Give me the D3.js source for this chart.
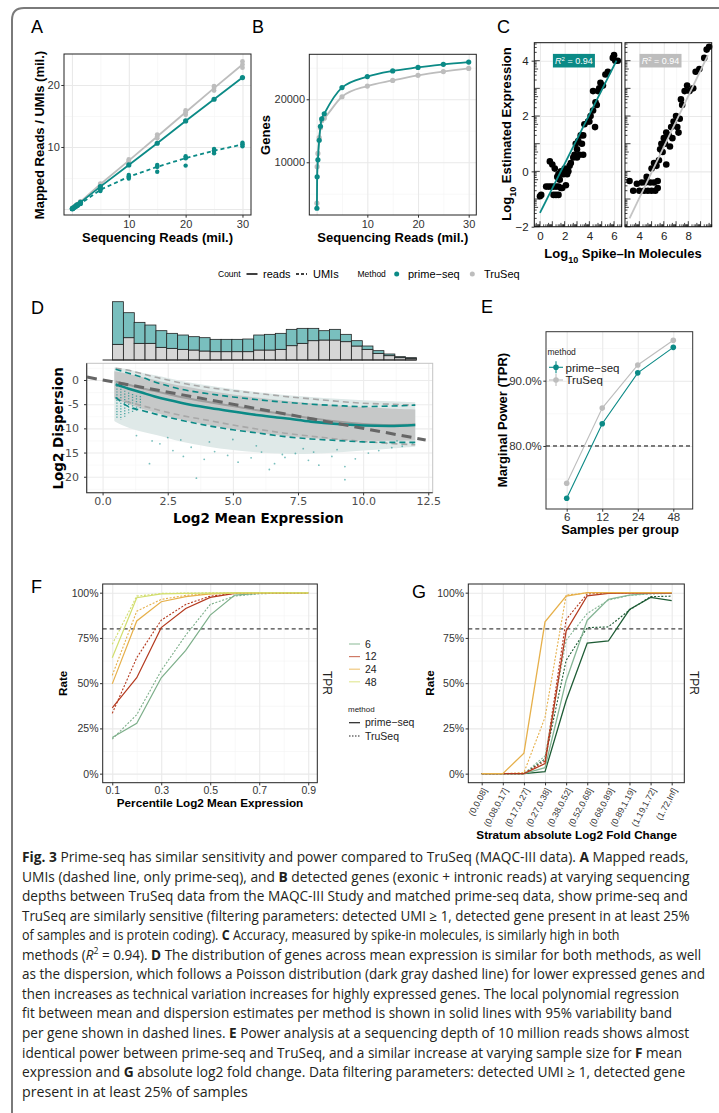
<!DOCTYPE html>
<html><head><meta charset="utf-8">
<script src="https://cdn.jsdelivr.net/npm/d3@7/dist/d3.min.js"></script>
<style>body{margin:0;background:#fff;}</style>
</head><body>
<svg id="fig" width="719" height="1113" xmlns="http://www.w3.org/2000/svg"></svg>
<script>
// ================= DATA =================
// Panel A / B : sequencing depth (millions of reads)
const depths=[0.05,0.1,0.25,0.5,0.75,1,1.5,5,10,15,20,25,30];
const readsTruSeq=[0.04,0.08,0.2,0.39,0.59,0.78,1.17,4.0,7.8,11.7,15.6,19.5,23.3];
const readsTruSeqLo=[0.04,0.08,0.2,0.38,0.58,0.77,1.15,3.9,7.6,11.4,15.2,19.1,22.8];
const readsTruSeqHi=[0.04,0.08,0.2,0.4,0.6,0.8,1.2,4.1,8.0,12.0,15.9,19.8,23.8];
const readsPrime=[0.04,0.07,0.18,0.36,0.53,0.71,1.07,3.6,7.1,10.6,14.2,17.7,21.2];
const umisPrime=[0.03,0.06,0.15,0.3,0.44,0.58,0.86,3.1,5.2,6.8,8.2,9.4,10.4];
const umisPrimeLo=[0.03,0.05,0.14,0.28,0.42,0.55,0.8,2.9,4.9,6.0,7.0,9.0,10.1];
const umisPrimeHi=[0.03,0.06,0.16,0.32,0.46,0.61,0.9,3.3,5.5,7.1,8.5,9.7,10.7];
const genesTruSeq=[3500,9300,11400,13900,15500,16600,17000,20400,22100,23000,23800,24400,24900];
const genesPrime=[2700,7700,10400,13500,15700,16900,17700,21850,23600,24500,25050,25550,25900];
// Panel C : spike-ins
const cLeftX=[0.0,0.1,0.5,0.7,0.9,1.1,1.3,1.5,1.1,1.3,1.5,0.8,1.0,1.2,1.5,1.7,1.9,2.0,2.2,2.3,1.8,1.6,1.4,2.5,2.7,2.8,3.0,3.2,2.9,3.1,3.3,3.5,3.5,3.6,3.9,4.1,4.3,4.5,4.46,4.6,4.3,4.7,4.9,5.3,5.5,5.1,5.9,6.0,6.3,6.1,2.1,1.7,2.4,3.4,3.0,4.0,4.8];
const cLeftY=[-0.9,-0.85,-0.55,-0.55,-0.55,-0.55,-0.55,-0.55,-0.85,-0.85,-0.85,0.36,0.25,0.1,-0.1,0.0,-0.1,0.1,-0.1,0.0,-0.6,-0.3,-0.2,0.3,0.5,0.6,0.5,0.6,1.0,1.1,1.3,1.3,0.6,1.7,1.8,2.0,2.2,2.5,1.6,2.4,2.9,2.9,3.2,3.5,3.6,3.1,4.1,4.2,4.0,4.0,-0.5,-0.6,0.2,1.0,0.8,1.8,3.0];
const cRightX=[3.2,3.5,3.8,4.0,4.2,4.4,4.5,4.7,4.9,5.0,5.2,5.5,5.5,5.3,4.6,5.0,5.2,5.4,5.6,5.9,6.2,5.8,6.0,6.2,6.1,6.4,6.5,6.6,6.8,7.0,7.1,7.3,7.2,7.5,7.4,7.7,7.9,8.1,8.4,8.6,8.9,9.3,9.5,9.7,6.7,5.7];
const cRightY=[-0.35,-0.7,-0.45,-0.7,-0.4,-0.7,-0.4,-0.7,-0.4,-0.7,-0.4,-0.35,-0.6,-0.7,-0.2,0.1,0.3,0.2,0.4,0.7,0.25,1.0,1.2,1.4,1.0,1.3,0.9,1.6,1.8,2.0,1.6,1.9,1.4,2.4,2.6,2.9,3.1,2.9,3.0,3.6,3.7,4.1,4.4,4.5,1.2,0.8];
const cFitLeftX=[0,6.2], cFitLeftY=[-1.5,4.0];
const cFitRightX=[3.2,9.6], cFitRightY=[-1.7,4.2];
const cR2Label="= 0.94";
// Panel D : histogram + dispersion
const histEdges=[0.38,0.80,1.21,1.63,2.05,2.46,2.88,3.30,3.71,4.13,4.55,4.96,5.38,5.80,6.21,6.63,7.05,7.46,7.88,8.30,8.71,9.13,9.55,9.96,10.38,10.80,11.21,11.63];
const histWidth=0.417;
const histPrime=[1280,750,630,550,500,450,430,400,400,370,370,370,380,450,470,480,490,450,370,280,320,220,160,100,80,50,30,20];
const histTru=[470,670,500,500,380,350,320,300,270,250,250,250,250,300,300,320,430,500,580,600,600,550,420,320,200,130,70,50];
const cloudX=[0.45,0.8,1.2,1.6,2,2.5,3,4,5,6,7,8,9,10,11,12];
const cloudOuterTop=[2.6,2.4,1.9,1.4,1.0,0.4,-0.2,-1.1,-1.9,-2.6,-3.1,-3.5,-3.9,-4.2,-4.4,-4.6];
const cloudOuterBot=[-8.5,-9.5,-10.3,-10.8,-11.3,-12.0,-12.8,-13.8,-14.5,-15.0,-15.3,-15.3,-15.0,-14.6,-14.2,-13.8];
const cloudCoreTop=[1.8,1.5,1.0,0.5,0.0,-0.6,-1.2,-2.2,-3.0,-3.7,-4.3,-4.8,-5.2,-5.6,-5.9,-6.1];
const cloudCoreBot=[-3.8,-4.6,-5.4,-6.1,-6.7,-7.5,-8.2,-9.3,-10.2,-11.0,-11.6,-12.1,-12.4,-12.6,-12.6,-12.5];
const streakX=[0.55,0.7,0.85,1.0,1.15,1.3,1.45];
const streakTop=[-1.2,-1.8,-2.2,-2.6,-2.9,-3.2,-3.3];
const streakBot=[-8.0,-8.2,-7.6,-7.2,-6.8,-6.4,-6.0];
const dOutX=[1.3,1.8,2.2,2.7,3.1,3.4,3.9,4.3,4.8,5.2,5.7,6.1,6.6,7.0,7.4,7.9,8.3,8.8,9.3,9.7,10.2,10.6,11.1,11.5,11.9,3.6,6.4,9.3,1.9,5.0,2.5,4.1,5.9,7.7,9.0,10.9,8.1,6.9,3.0,11.3];
const dOutY=[-11.5,-17.3,-13.2,-14.6,-15.8,-13.9,-16.4,-14.8,-15.6,-17.0,-16.1,-14.9,-17.3,-16.0,-15.2,-16.6,-17.6,-15.8,-20.6,-16.3,-15.1,-14.6,-14.0,-13.7,-13.2,-20.3,-18.5,-17.9,-12.6,-12.3,-11.9,-12.8,-13.6,-14.2,-14.4,-13.1,-14.9,-15.4,-12.4,-12.6];
const dFitX=[0.5,1,1.5,2,2.5,3,4,5,6,7,8,9,10,11,12];
const dPrimeFit=[-0.9,-1.8,-2.6,-3.4,-4.1,-4.7,-5.7,-6.5,-7.3,-7.9,-8.6,-9.1,-9.4,-9.5,-9.3];
const dTruFit=[-0.3,-1.0,-1.7,-2.3,-2.9,-3.5,-4.5,-5.4,-6.3,-7.1,-7.9,-8.6,-9.1,-9.3,-9.2];
const dPrimeUp=[2.2,1.4,0.6,-0.4,-1.2,-1.9,-2.8,-3.5,-4.1,-4.6,-5.0,-5.3,-5.5,-5.4,-5.2];
const dPrimeLo=[-3.6,-5.5,-6.3,-7.0,-7.7,-8.3,-9.4,-10.3,-11.0,-11.7,-12.2,-12.5,-12.8,-12.9,-12.9];
const dTruUp=[2.4,2.0,1.3,0.6,0.0,-0.6,-1.5,-2.2,-2.8,-3.4,-3.9,-4.4,-4.8,-5.0,-5.2];
const dTruLo=[-3.8,-4.6,-5.3,-6.0,-6.7,-7.3,-8.3,-9.3,-10.2,-11.0,-11.6,-12.2,-12.7,-13.1,-13.4];
const dPoisX=[-0.6,12.4], dPoisY=[0.6,-12.4];
// Panel E : marginal power
const samples=["6","12","24","48"];
const tprPrime=[72.0,83.4,91.2,95.1];
const tprTru=[74.3,85.8,92.4,96.2];
// Panel F : TPR by mean expression percentile
const percentiles=[0.1,0.2,0.3,0.4,0.5,0.6,0.7,0.8,0.9];
const f6Prime=[20.0,27.8,53.0,68.1,87.6,98.7,99.6,99.7,99.8];
const f6Tru=[19.1,32.6,57.0,76.5,93.5,98.1,99.4,99.7,99.8];
const f12Prime=[36.3,53.0,80.7,91.3,97.4,99.6,99.8,99.8,99.9];
const f12Tru=[33.3,64.1,84.8,93.5,98.1,99.6,99.8,99.9,99.9];
const f24Prime=[49.6,84.4,95.0,97.8,99.3,99.8,99.9,99.9,99.9];
const f24Tru=[54.3,89.8,96.3,98.5,99.4,99.8,99.9,99.9,99.9];
const f48Prime=[64.0,97.2,99.3,99.6,99.8,99.9,99.9,99.9,99.9];
const f48Tru=[71.5,98.1,99.6,99.8,99.9,99.9,99.9,99.9,99.9];
// Panel G : TPR by |log2 FC| stratum
const strata=["(0,0.08]","(0.08,0.17]","(0.17,0.27]","(0.27,0.38]","(0.38,0.52]","(0.52,0.68]","(0.68,0.89]","(0.89,1.19]","(1.19,1.72]","(1.72,Inf]"];
const gOrangePrime=[0,0,11.3,83.9,98.1,100,100,100,100,100];
const gOrangeTru=[0,0,0.6,31.1,98.7,99.8,100,100,100,100];
const gRedPrime=[0,0,0,5.6,78.9,98.3,99.6,99.8,99.8,99.8];
const gRedTru=[0,0,0,7,85.2,99.3,99.8,99.8,99.8,99.8];
const gLightPrime=[0,0,0,3.3,51.5,84.8,96.3,98.7,99.6,99.6];
const gLightTru=[0,0,0,9.8,73.7,88.5,95.9,98.5,99.3,99.6];
const gDarkPrime=[0,0,0,1.1,40.4,72.2,73.3,90.7,97.4,95.6];
const gDarkTru=[0,0,0,8.1,62.6,80.7,81.1,90.4,97.8,98.1];
const tprThreshold=80;
// Caption
const captionLines=[
 "**Fig. 3**  Prime-seq has similar sensitivity and power compared to TruSeq (MAQC-III data). **A** Mapped reads,",
 "UMIs (dashed line, only prime-seq), and **B** detected genes (exonic + intronic reads) at varying sequencing",
 "depths between TruSeq data from the MAQC-III Study and matched prime-seq data, show prime-seq and",
 "TruSeq are similarly sensitive (filtering parameters: detected UMI ≥ 1, detected gene present in at least 25%",
 "of samples and is protein coding). **C** Accuracy, measured by spike-in molecules, is similarly high in both",
 "methods (@R@^2^ = 0.94). **D** The distribution of genes across mean expression is similar for both methods, as well",
 "as the dispersion, which follows a Poisson distribution (dark gray dashed line) for lower expressed genes and",
 "then increases as technical variation increases for highly expressed genes. The local polynomial regression",
 "fit between mean and dispersion estimates per method is shown in solid lines with 95% variability band",
 "per gene shown in dashed lines. **E** Power analysis at a sequencing depth of 10 million reads shows almost",
 "identical power between prime-seq and TruSeq, and a similar increase at varying sample size for **F** mean",
 "expression and **G** absolute log2 fold change. Data filtering parameters: detected UMI ≥ 1, detected gene",
 "present in at least 25% of samples"];
const captionEnds=[689,690,688,690,620,702,706,680,673,690,683,686,248];

// ================= DRAWING =================
const FF="Liberation Sans, Arial, Helvetica, sans-serif";
const DV="DejaVu Sans, Verdana, sans-serif";
const TEAL="#0b8a86", GRAY="#bdbdbd";
const svg=d3.select("#fig").attr("font-family",FF);
svg.append("rect").attr("width",719).attr("height",1113).attr("fill","#fff");
svg.append("path").attr("d","M12,1113V20Q12,8 24,8H719").attr("fill","none").attr("stroke","#7a7a7a").attr("stroke-width",2);

function T(x,y,txt,o={}){
  const t=svg.append("text").attr("x",x).attr("y",y).text(txt)
   .attr("font-size",o.fs||11).attr("fill",o.fill||"#000")
   .attr("font-family",o.ff||FF).attr("font-weight",o.fw||"normal")
   .attr("text-anchor",o.anchor||"start");
  if(o.rot!=null) t.attr("transform",`rotate(${o.rot},${x},${y})`);
  if(o.dy) t.attr("dy",o.dy);
  return t;
}
function grid(o){
  const g=svg.append("g");
  g.append("rect").attr("x",o.L).attr("y",o.T).attr("width",o.R-o.L).attr("height",o.B-o.T).attr("fill","#fff");
  const st=(w,c)=>a=>{a.select(".domain").remove();a.selectAll(".tick line").attr("stroke",c).attr("stroke-width",w);a.selectAll("text").remove();};
  const h=o.B-o.T,w=o.R-o.L;
  const minC=o.minC||"#f4f4f4", majC=o.majC||"#e9e9e9";
  if(o.xMin) g.append("g").attr("transform",`translate(0,${o.B})`).call(d3.axisBottom(o.xs).tickValues(o.xMin).tickSize(-h)).call(st(0.6,minC));
  if(o.yMin) g.append("g").attr("transform",`translate(${o.L},0)`).call(d3.axisLeft(o.ys).tickValues(o.yMin).tickSize(-w)).call(st(0.6,minC));
  if(o.xMaj) g.append("g").attr("transform",`translate(0,${o.B})`).call(d3.axisBottom(o.xs).tickValues(o.xMaj).tickSize(-h)).call(st(1.1,majC));
  if(o.yMaj) g.append("g").attr("transform",`translate(${o.L},0)`).call(d3.axisLeft(o.ys).tickValues(o.yMaj).tickSize(-w)).call(st(1.1,majC));
}
function border(o,c="#222",w=1){
  svg.append("rect").attr("x",o.L).attr("y",o.T).attr("width",o.R-o.L).attr("height",o.B-o.T).attr("fill","none").attr("stroke",c).attr("stroke-width",w);
}
function axisX(o,ticks,fmt,opt={}){
  const g=svg.append("g").attr("transform",`translate(0,${o.B})`)
   .call(d3.axisBottom(o.xs).tickValues(ticks).tickSize(opt.ts??2.7).tickPadding(opt.pad??2).tickFormat(fmt));
  g.select(".domain").remove();
  g.attr("font-family",opt.ff||FF).attr("font-size",opt.fs||11);
  g.selectAll(".tick line").attr("stroke",opt.tc||"#333");
  g.selectAll("text").attr("fill",opt.col||"#333");
  return g;
}
function axisY(o,ticks,fmt,opt={}){
  const g=svg.append("g").attr("transform",`translate(${o.L},0)`)
   .call(d3.axisLeft(o.ys).tickValues(ticks).tickSize(opt.ts??2.7).tickPadding(opt.pad??1.5).tickFormat(fmt));
  g.select(".domain").remove();
  g.attr("font-family",opt.ff||FF).attr("font-size",opt.fs||11);
  g.selectAll(".tick line").attr("stroke",opt.tc||"#333");
  g.selectAll("text").attr("fill",opt.col||"#333");
  return g;
}
function path(d,stroke,w,dash,op){
  const p=svg.append("path").attr("d",d).attr("fill","none").attr("stroke",stroke).attr("stroke-width",w);
  if(dash) p.attr("stroke-dasharray",dash);
  if(op) p.attr("opacity",op);
  return p;
}
function dots(xs,ys,xv,yv,color,r){
  svg.append("g").selectAll("circle").data(yv).join("circle")
   .attr("cx",(d,i)=>xs(xv[i])).attr("cy",d=>ys(d)).attr("r",r).attr("fill",color);
}

// ---------- Panel A ----------
T(31,33,"A",{fs:18});
const A={L:64,R:251,T:54,B:215};
A.xs=d3.scaleLinear().domain([-1.4,31.5]).range([A.L,A.R]);
A.ys=d3.scaleLinear().domain([-0.97,25]).range([A.B,A.T]);
grid({...A,xMaj:[0,10,20,30],xMin:[5,15,25],yMaj:[0,10,20],yMin:[5,15]});
const lineA=d3.line().x((d,i)=>A.xs(depths[i])).y(d=>A.ys(d));
path(lineA(readsTruSeq),GRAY,1.8);
dots(A.xs,A.ys,depths,readsTruSeqLo,GRAY,2.4);
dots(A.xs,A.ys,depths,readsTruSeqHi,GRAY,2.4);
dots(A.xs,A.ys,depths,readsTruSeq,GRAY,2.4);
path(lineA(umisPrime),TEAL,1.8,"4,3");
dots(A.xs,A.ys,depths,umisPrimeLo,TEAL,2.2);
dots(A.xs,A.ys,depths,umisPrimeHi,TEAL,2.2);
dots(A.xs,A.ys,depths,umisPrime,TEAL,2.4);
path(lineA(readsPrime),TEAL,1.8);
dots(A.xs,A.ys,depths,readsPrime,TEAL,2.6);
border(A);
axisX(A,[10,20,30],d3.format("d"));
axisY(A,[10,20],d3.format("d"));
T(157.5,241.5,"Sequencing Reads (mil.)",{fs:13,fw:"bold",anchor:"middle"});
T(44,135,"Mapped Reads / UMIs (mil.)",{fs:13,fw:"bold",anchor:"middle",rot:-90});

// ---------- Panel B ----------
T(252,33,"B",{fs:18});
const B={L:309.3,R:476.3,T:54.3,B:215};
B.xs=d3.scaleLinear().domain([-1.45,31.5]).range([B.L,B.R]);
B.ys=d3.scaleLinear().domain([1630,27140]).range([B.B,B.T]);
grid({...B,xMaj:[0,10,20,30],xMin:[5,15,25],yMaj:[10000,20000],yMin:[5000,15000,25000]});
const lineB=d3.line().x((d,i)=>B.xs(depths[i])).y(d=>B.ys(d)).curve(d3.curveMonotoneX);
path(lineB(genesTruSeq),GRAY,1.8);
dots(B.xs,B.ys,depths,genesTruSeq,GRAY,2.6);
path(lineB(genesPrime),TEAL,1.8);
dots(B.xs,B.ys,depths,genesPrime,TEAL,2.6);
border(B);
axisX(B,[10,20,30],d3.format("d"));
axisY(B,[10000,20000],d3.format("d"));
T(392.8,241.5,"Sequencing Reads (mil.)",{fs:13,fw:"bold",anchor:"middle"});
T(269.5,135,"Genes",{fs:13,fw:"bold",anchor:"middle",rot:-90});

// ---------- Panel C ----------
T(497,33,"C",{fs:18});
const CL={L:534.3,R:621.7,T:42.7,B:226.7}, CR={L:625,R:711.7,T:42.7,B:226.7};
CL.xs=d3.scaleLinear().domain([-0.46,6.62]).range([CL.L,CL.R]);
CR.xs=d3.scaleLinear().domain([2.83,9.91]).range([CR.L,CR.R]);
CL.ys=d3.scaleLinear().domain([-2,4.65]).range([CL.B,CL.T]); CR.ys=CL.ys;
grid({...CL,xMaj:[0,2,4,6],xMin:[1,3,5],yMaj:[-2,0,2,4],yMin:[-1,1,3]});
grid({...CR,xMaj:[4,6,8],xMin:[3,5,7,9],yMaj:[-2,0,2,4],yMin:[-1,1,3]});
const logK=[1,2,3,4,5,6,7,8,9];
function logTicks(P){
  const g=svg.append("g").attr("stroke","#111").attr("stroke-width",0.8);
  const [x0,x1]=P.xs.domain(),[y0,y1]=P.ys.domain();
  for(let d=Math.floor(x0);d<=x1;d++) logK.forEach(k=>{const v=d+Math.log10(k); if(v<x0||v>x1) return;
    const len=k===1?5.5:(k===5?3.8:2.4); g.append("line").attr("x1",P.xs(v)).attr("x2",P.xs(v)).attr("y1",P.B).attr("y2",P.B-len);});
  for(let d=Math.floor(y0);d<=y1;d++) logK.forEach(k=>{const v=d+Math.log10(k); if(v<y0||v>y1) return;
    const len=k===1?5.5:(k===5?3.8:2.4); g.append("line").attr("y1",P.ys(v)).attr("y2",P.ys(v)).attr("x1",P.L).attr("x2",P.L+len);});
}
logTicks(CL); logTicks(CR);
dots(CL.xs,CL.ys,cLeftX,cLeftY,"#000",3.3);
dots(CR.xs,CR.ys,cRightX,cRightY,"#000",3.3);
path(d3.line().x((d,i)=>CL.xs(cFitLeftX[i])).y(d=>CL.ys(d))(cFitLeftY),TEAL,1.8);
path(d3.line().x((d,i)=>CR.xs(cFitRightX[i])).y(d=>CR.ys(d))(cFitRightY),"#c4c4c4",1.8);
function r2box(P,cx,cy,fill){
  const x=P.xs(cx),y=P.ys(cy);
  svg.append("rect").attr("x",x-21).attr("y",y-6.8).attr("width",42).attr("height",13.6).attr("fill",fill);
  const t=svg.append("text").attr("x",x).attr("y",y+3.3).attr("text-anchor","middle").attr("font-size",9).attr("fill","#fff");
  t.append("tspan").attr("font-style","italic").text("R");
  t.append("tspan").attr("font-size",6).attr("baseline-shift","super").text("2");
  t.append("tspan").text(" "+cR2Label);
}
r2box(CL,2.75,4.0,TEAL); r2box(CR,5.73,4.0,"#bdbdbd");
border(CL,"#111"); border(CR,"#111");
axisY(CL,[-2,0,2,4],d3.format("d"),{pad:3,fs:11.5,col:"#222"});
axisX(CL,[0,2,4,6],d3.format("d"),{fs:11.5,ts:0,pad:5,col:"#222"});
axisX(CR,[4,6,8],d3.format("d"),{fs:11.5,ts:0,pad:5,col:"#222"});
{ const t=svg.append("text").attr("x",510.5).attr("y",134).attr("text-anchor","middle").attr("font-size",13).attr("font-weight","bold").attr("transform","rotate(-90,510.5,134)");
  t.append("tspan").text("Log"); t.append("tspan").attr("font-size",9).attr("baseline-shift","sub").text("10"); t.append("tspan").text(" Estimated Expression"); }
{ const t=svg.append("text").attr("x",623).attr("y",258).attr("text-anchor","middle").attr("font-size",13).attr("font-weight","bold");
  t.append("tspan").text("Log"); t.append("tspan").attr("font-size",9).attr("baseline-shift","sub").text("10"); t.append("tspan").text(" Spike\u2013In Molecules"); }

// ---------- shared legend row ----------
T(218,277,"Count",{fs:8.5});
path("M246.5,274H257.5","#000",1.5);
T(263,278,"reads",{fs:11});
path("M296,274H307","#000",1.5,"3,2");
T(313,278,"UMIs",{fs:11});
T(357.5,277,"Method",{fs:8.5});
svg.append("circle").attr("cx",396.7).attr("cy",274).attr("r",2.5).attr("fill",TEAL);
T(408,278,"prime\u2212seq",{fs:11});
svg.append("circle").attr("cx",472.3).attr("cy",274).attr("r",2.5).attr("fill",GRAY);
T(484,278,"TruSeq",{fs:11});

// ---------- Panel D ----------
T(31,314,"D",{fs:18});
const D={L:86.7,R:432.7,T:363.3,B:492.7};
D.xs=d3.scaleLinear().domain([-0.61,12.67]).range([D.L,D.R]);
D.ys=d3.scaleLinear().domain([-23.3,3.45]).range([D.B,D.T]);
const Dh=d3.scaleLinear().domain([0,1750]).range([360,301.7]);
const hg=svg.append("g").attr("stroke","#222").attr("stroke-width",0.8);
hg.selectAll("rect.tru").data(histTru).join("rect").attr("class","tru")
  .attr("x",(d,i)=>D.xs(histEdges[i])).attr("width",(d,i)=>D.xs(histEdges[i]+histWidth)-D.xs(histEdges[i]))
  .attr("y",d=>Dh(d)).attr("height",d=>Dh(0)-Dh(d)).attr("fill","#d6d6d6");
hg.selectAll("rect.pri").data(histPrime).join("rect").attr("class","pri")
  .attr("x",(d,i)=>D.xs(histEdges[i])).attr("width",(d,i)=>D.xs(histEdges[i]+histWidth)-D.xs(histEdges[i]))
  .attr("y",(d,i)=>Dh(d+histTru[i])).attr("height",(d,i)=>Dh(histTru[i])-Dh(d+histTru[i])).attr("fill","#79bfbe");
path(`M${D.xs(0)},${Dh(0)}H${D.xs(histEdges[histEdges.length-1]+histWidth)}`,"#222",1);
grid({...D,xMaj:[0,2.5,5,7.5,10,12.5],xMin:[1.25,3.75,6.25,8.75,11.25],yMaj:[0,-5,-10,-15,-20],yMin:[2.5,-2.5,-7.5,-12.5,-17.5,-22.5],majC:"#ececec",minC:"#f5f5f5"});
svg.append("clipPath").attr("id","clipD").append("rect").attr("x",D.L).attr("y",D.T).attr("width",D.R-D.L).attr("height",D.B-D.T);
const gD=svg.append("g").attr("clip-path","url(#clipD)");
const areaD=(top,bot)=>d3.area().x((d,i)=>D.xs(cloudX[i])).y0((d,i)=>D.ys(bot[i])).y1(d=>D.ys(d)).curve(d3.curveBasis)(top);
gD.append("path").attr("d",areaD(cloudOuterTop,cloudOuterBot)).attr("fill","#dfe9e8");
gD.append("path").attr("d",areaD(cloudCoreTop,cloudCoreBot)).attr("fill","#c6c8c8");
gD.selectAll("line.streak").data(streakX).join("line").attr("class","streak")
  .attr("x1",d=>D.xs(d)).attr("x2",d=>D.xs(d)).attr("y1",(d,i)=>D.ys(streakTop[i])).attr("y2",(d,i)=>D.ys(streakBot[i]))
  .attr("stroke",TEAL).attr("stroke-width",1.3).attr("stroke-dasharray","1.2,1.6").attr("opacity",0.7);
gD.selectAll("circle.out").data(dOutY).join("circle").attr("class","out")
  .attr("cx",(d,i)=>D.xs(dOutX[i])).attr("cy",d=>D.ys(d)).attr("r",0.9).attr("fill",TEAL).attr("opacity",0.55);
const lineD=d3.line().x((d,i)=>D.xs(dFitX[i])).y(d=>D.ys(d)).curve(d3.curveMonotoneX);
const dl=(arr,c,w,dash)=>{const p=gD.append("path").attr("d",lineD(arr)).attr("fill","none").attr("stroke",c).attr("stroke-width",w); if(dash) p.attr("stroke-dasharray",dash);};
dl(dTruUp,"#a8a8a8",1.6,"6,4"); dl(dTruLo,"#a8a8a8",1.6,"6,4");
dl(dPrimeUp,TEAL,1.6,"6,4"); dl(dPrimeLo,TEAL,1.6,"6,4");
dl(dTruFit,"#9e9e9e",2); dl(dPrimeFit,TEAL,2.6);
gD.append("path").attr("d",d3.line().x((d,i)=>D.xs(dPoisX[i])).y(d=>D.ys(d))(dPoisY)).attr("fill","none").attr("stroke","#666").attr("stroke-width",3).attr("stroke-dasharray","10,6");
border(D,"#c4c4c4",1);
path(`M${D.L},${D.T}V${D.B}H${D.R}`,"#333",1.1);
axisX(D,[0,2.5,5,7.5,10,12.5],d3.format(".1f"),{ff:DV,fs:11,col:"#4d4d4d",pad:2});
axisY(D,[0,-5,-10,-15,-20],d=>String(d),{ff:DV,fs:11,col:"#4d4d4d",pad:5});
T(258.3,522.5,"Log2 Mean Expression",{ff:DV,fs:13.5,fw:"bold",anchor:"middle"});
T(63,428.3,"Log2 Dispersion",{ff:DV,fs:13.5,fw:"bold",anchor:"middle",rot:-90});

// ---------- Panel E ----------
T(481,313,"E",{fs:18});
const E={L:546,R:692.7,T:331.7,B:509};
E.xs=d3.scalePoint().domain(samples).range([566.7,673.3]);
E.ys=d3.scaleLinear().domain([70.35,97.5]).range([E.B,E.T]);
grid({...E,xMaj:samples,yMaj:[80,90],yMin:[75,85,95]});
path(`M${E.L},${E.ys(tprThreshold)}H${E.R}`,"#000",1,"4,3");
const lineE=d3.line().x((d,i)=>E.xs(samples[i])).y(d=>E.ys(d));
path(lineE(tprTru),GRAY,1.1); dots(E.xs,E.ys,samples,tprTru,GRAY,2.8);
path(lineE(tprPrime),TEAL,1.1); dots(E.xs,E.ys,samples,tprPrime,TEAL,2.8);
border(E,"#333");
axisX(E,samples,d=>d,{fs:11.5,pad:1.5});
axisY(E,[80,90],d=>d.toFixed(1)+"%",{fs:11.5,pad:1.5});
T(620,534,"Samples per group",{fs:13,fw:"bold",anchor:"middle"});
T(507,420,"Marginal Power (TPR)",{fs:13,fw:"bold",anchor:"middle",rot:-90});
T(547.5,355,"method",{fs:8.5,fill:"#222"});
[["prime\u2212seq",TEAL,367.3],["TruSeq",GRAY,380]].forEach(([lab,c,y])=>{
  path(`M549,${y}H563`,c,1.1); path(`M556,${y-6}V${y+6}`,c,1.1);
  svg.append("circle").attr("cx",556).attr("cy",y).attr("r",2.8).attr("fill",c);
  T(565.5,y+4.2,lab,{fs:11.5,fill:"#222"});
});

// ---------- Panel F ----------
T(31,593,"F",{fs:18});
const F={L:102.7,R:317.3,T:584,B:782.7};
F.xs=d3.scaleLinear().domain([0.061,0.937]).range([F.L,F.R]);
F.ys=d3.scaleLinear().domain([-5,104.8]).range([F.B,F.T]);
grid({...F,xMaj:[0.1,0.3,0.5,0.7,0.9],xMin:[0.2,0.4,0.6,0.8],yMaj:[0,25,50,75,100],yMin:[12.5,37.5,62.5,87.5]});
path(`M${F.L},${F.ys(tprThreshold)}H${F.R}`,"#444",1.1,"4,3");
const lineF=d3.line().x((d,i)=>F.xs(percentiles[i])).y(d=>F.ys(d));
const fCols={"6":"#7daf8a","12":"#b43a1f","24":"#e6b04b","48":"#d2de6e"};
[["6",f6Prime,f6Tru],["12",f12Prime,f12Tru],["24",f24Prime,f24Tru],["48",f48Prime,f48Tru]].forEach(([k,p,t])=>{
  path(lineF(t),fCols[k],1.1,"2,1.6");
  path(lineF(p),fCols[k],1.2);
});
border(F,"#222");
axisX(F,[0.1,0.3,0.5,0.7,0.9],d3.format(".1f"),{fs:10.5,pad:1.5});
axisY(F,[0,25,50,75,100],d=>d+"%",{fs:10.5,pad:1.5});
T(210,807,"Percentile Log2 Mean Expression",{fs:11.7,fw:"bold",anchor:"middle"});
T(67.5,683.3,"Rate",{fs:11.7,fw:"bold",anchor:"middle",rot:-90});
T(323,683,"TPR",{fs:12,anchor:"middle",rot:90,fill:"#222"});
const fLegCols={"6":"#9cc4a6","12":"#cf7a66","24":"#f0c87e","48":"#e2e99a"};
samples.forEach((s,i)=>{const y=644+i*12.6;
  path(`M349,${y}H360`,fLegCols[s],1.2); T(365,y+3.7,s,{fs:10.5,fill:"#222"});});
T(348,712,"method",{fs:8,fill:"#222"});
path("M349,722.7H360","#222",1.2); T(365,726.4,"prime\u2212seq",{fs:10.5,fill:"#222"});
path("M349,736H360","#222",1.1,"1.5,1.5"); T(365,739.7,"TruSeq",{fs:10.5,fill:"#222"});

// ---------- Panel G ----------
T(412,598,"G",{fs:18});
const G={L:468.3,R:684.3,T:584,B:782.7};
G.xs=d3.scalePoint().domain(strata).range([481.7,671.7]);
G.ys=F.ys;
grid({...G,xMaj:strata,yMaj:[0,25,50,75,100],yMin:[12.5,37.5,62.5,87.5]});
path(`M${G.L},${G.ys(tprThreshold)}H${G.R}`,"#444",1.1,"4,3");
const lineG=d3.line().x((d,i)=>G.xs(strata[i])).y(d=>G.ys(d));
[[gDarkTru,"#1e5c35",true],[gLightTru,"#86b696",true],[gRedTru,"#b43a1f",true],[gOrangeTru,"#e6b04b",true],
 [gDarkPrime,"#1e5c35",false],[gLightPrime,"#86b696",false],[gRedPrime,"#b43a1f",false],[gOrangePrime,"#e6b04b",false]]
 .forEach(([v,c,dot])=>path(lineG(v),c,dot?1.1:1.3,dot?"2,1.6":null));
border(G,"#222");
const gx=axisX(G,strata,d=>d,{fs:8.8,pad:1.5});
gx.selectAll("text").attr("text-anchor","end").attr("transform","rotate(-62)").attr("x",-4.1).attr("y",5).attr("dy","0.35em");
axisY(G,[0,25,50,75,100],d=>d+"%",{fs:10.5,pad:1.5});
T(576.7,838.5,"Stratum absolute Log2 Fold Change",{fs:11.7,fw:"bold",anchor:"middle"});
T(434,683,"Rate",{fs:11.7,fw:"bold",anchor:"middle",rot:-90});
T(690,683,"TPR",{fs:12,anchor:"middle",rot:90,fill:"#222"});

// ---------- Caption ----------
captionLines.forEach((ln,i)=>{
  const y=862+i*19.55;
  const g=svg.append("g");
  const t=g.append("text").attr("x",0).attr("y",0).attr("font-family","Open Sans, Noto Sans, sans-serif")
    .attr("font-size",14).attr("fill","#231f20");
  ln.split("**").forEach((seg,j)=>{
    if(j%2===1){ t.append("tspan").attr("font-weight","bold").text(seg); return; }
    seg.split(/(@[^@]*@|\^[^^]*\^)/).forEach(p=>{
      if(!p) return;
      if(p[0]==="@") t.append("tspan").attr("font-style","italic").text(p.slice(1,-1));
      else if(p[0]==="^") t.append("tspan").attr("font-size",9).attr("baseline-shift","super").text(p.slice(1,-1));
      else t.append("tspan").text(p);
    });
  });
  const w=t.node().getComputedTextLength();
  const sx=(captionEnds[i]-22)/w;
  g.attr("transform",`translate(22,${y}) scale(${sx},1)`);
});
</script></body></html>
